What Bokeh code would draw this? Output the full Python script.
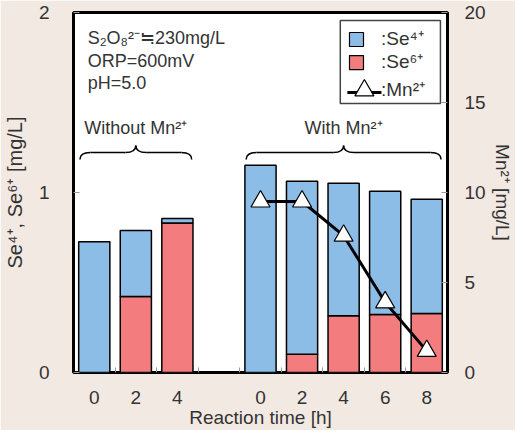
from bokeh.plotting import figure
from bokeh.models import Range1d, LinearAxis, FixedTicker
from bokeh.core.properties import value
from bokeh.embed import file_html
from bokeh.resources import INLINE

# ---------------- data ----------------
group_names = ["Without Mn²⁺", "With Mn²⁺"]
time_without = ["0", "2", "4"]
time_with = ["0", "2", "4", "6", "8"]
se4_without = [0.726, 0.367, 0.026]
se6_without = [0.0, 0.422, 0.830]
se4_with = [1.152, 0.961, 0.737, 0.685, 0.635]
se6_with = [0.0, 0.102, 0.315, 0.322, 0.328]
mn_with = [9.5, 9.5, 7.6, 3.9, 1.2]
conditions = ["S₂O₈²⁻≒230mg/L", "ORP=600mV", "pH=5.0"]
legend_labels = [":Se⁴⁺", ":Se⁶⁺", ":Mn²⁺"]
left_ticks = [0, 1, 2]
right_ticks = [0, 5, 10, 15, 20]

# ---------------- style ----------------
FONT = "Liberation Sans"
TXT = "#333333"
BLUE = "#8bbde6"
RED = "#f37c7e"
BG = "#f2e9e3"
BAR_W = 0.75

x_without = list(range(len(time_without)))
x_with = [len(time_without) + 1 + i for i in range(len(time_with))]
n_slots = x_with[-1] + 1

p = figure(frame_width=374, frame_height=360, min_border_left=71, min_border_right=63,
           min_border_top=12, min_border_bottom=56,
           x_range=Range1d(-0.5, n_slots - 0.5), y_range=Range1d(0, 2),
           output_backend="svg", toolbar_location=None, tools="")
p.extra_y_ranges = {"mn": Range1d(0, 20)}
p.background_fill_color = "white"
p.border_fill_color = BG
p.outline_line_color = "black"
p.outline_line_width = 3
p.xgrid.visible = False
p.ygrid.visible = False

# bars
xs = x_without + x_with
se6 = se6_without + se6_with
se4 = se4_without + se4_with
tot = [a + b for a, b in zip(se4, se6)]
p.vbar(x=xs, bottom=0, top=se6, width=BAR_W, fill_color=RED, line_color="black", line_width=1.5)
p.vbar(x=xs, bottom=se6, top=tot, width=BAR_W, fill_color=BLUE, line_color="black", line_width=1.5)

# Mn line
p.line(x_with, mn_with, y_range_name="mn", line_color="black", line_width=3)
p.scatter(x_with, mn_with, y_range_name="mn", marker="triangle", size=19,
          fill_color="white", line_color="black", line_width=1.2)

# axes
xa = p.xaxis[0]
xa.ticker = FixedTicker(ticks=xs, minor_ticks=[i + 0.5 for i in range(n_slots - 1)])
xa.major_label_overrides = {x: t for x, t in zip(xs, time_without + time_with)}
xa.axis_label = "Reaction time [h]"
ya = p.yaxis[0]
ya.ticker = FixedTicker(ticks=left_ticks)
ya.axis_label = "Se⁴⁺, Se⁶⁺ [mg/L]"
ra = LinearAxis(y_range_name="mn", ticker=FixedTicker(ticks=right_ticks), axis_label="Mn²⁺ [mg/L]")
p.add_layout(ra, "right")
for ax in (xa, ya, ra):
    ax.axis_line_color = None
    ax.major_tick_out = 0
    ax.major_tick_in = 6
    ax.major_tick_line_color = "#999999"
    ax.minor_tick_out = 0
    ax.minor_tick_in = 0
    ax.major_label_text_font = FONT
    ax.major_label_text_font_size = "19px"
    ax.major_label_text_color = TXT
    ax.axis_label_text_font = FONT
    ax.axis_label_text_font_size = "19px"
    ax.axis_label_text_font_style = "normal"
    ax.axis_label_text_color = TXT
ya.axis_label_text_font_size = "20px"
xa.major_tick_in = 0
xa.minor_tick_in = 5
xa.minor_tick_line_color = "#999999"
xa.major_label_standoff = 18
xa.axis_label_standoff = 0
ya.major_label_standoff = 24
ya.axis_label_standoff = 10
ra.major_label_standoff = 17
ra.axis_label_standoff = 3

# braces + group labels
brace_lo, brace_mid, brace_hi = 1.183, 1.222, 1.261
d = 0.25
for name, gx in zip(group_names, (x_without, x_with)):
    x0 = gx[0] - BAR_W / 2 + 0.03
    x1 = gx[-1] + BAR_W / 2 - 0.03
    xc = (gx[0] + gx[-1]) / 2
    p.quadratic(x0=[x0, x1], y0=[brace_lo] * 2, x1=[x0 + d, x1 - d], y1=[brace_mid] * 2,
                cx=[x0, x1], cy=[brace_mid] * 2, line_color="black", line_width=1.5)
    p.segment(x0=[x0 + d, xc + d], y0=[brace_mid] * 2, x1=[xc - d, x1 - d], y1=[brace_mid] * 2,
              line_color="black", line_width=1.5)
    p.quadratic(x0=[xc - d, xc + d], y0=[brace_mid] * 2, x1=[xc, xc], y1=[brace_hi] * 2,
                cx=[xc, xc], cy=[brace_mid] * 2, line_color="black", line_width=1.5)
    p.text(x=[xc], y=[1.361], text=[name], text_font=value(FONT), text_font_size="18px",
           text_color=TXT, text_align="center", text_baseline="middle")

# condition text
p.text(x=[-0.16] * 3, y=[1.861, 1.733, 1.611], text=conditions, text_font=value(FONT),
       text_font_size="18px", text_color=TXT, text_align="left", text_baseline="middle")

# legend (drawn)
p.quad(left=[5.92], right=[8.33], bottom=[1.494], top=[1.956], fill_color="white",
       line_color="#444444", line_width=1.5)
p.scatter(x=[6.31, 6.31], y=[1.85, 1.722], marker="square", size=14,
          fill_color=[BLUE, RED], line_color="black", line_width=1.2)
p.segment(x0=[6.09], y0=[1.556], x1=[6.91], y1=[1.556], line_color="black", line_width=3)
p.scatter(x=[6.5], y=[1.567], marker="triangle", size=19, fill_color="white",
          line_color="black", line_width=1.2)
p.text(x=[6.9] * 3, y=[1.855, 1.727, 1.575], text=legend_labels, text_font=value(FONT),
       text_font_size="19px", text_color=TXT, text_align="left", text_baseline="middle")

open("out.html", "w").write(file_html(p, INLINE))
